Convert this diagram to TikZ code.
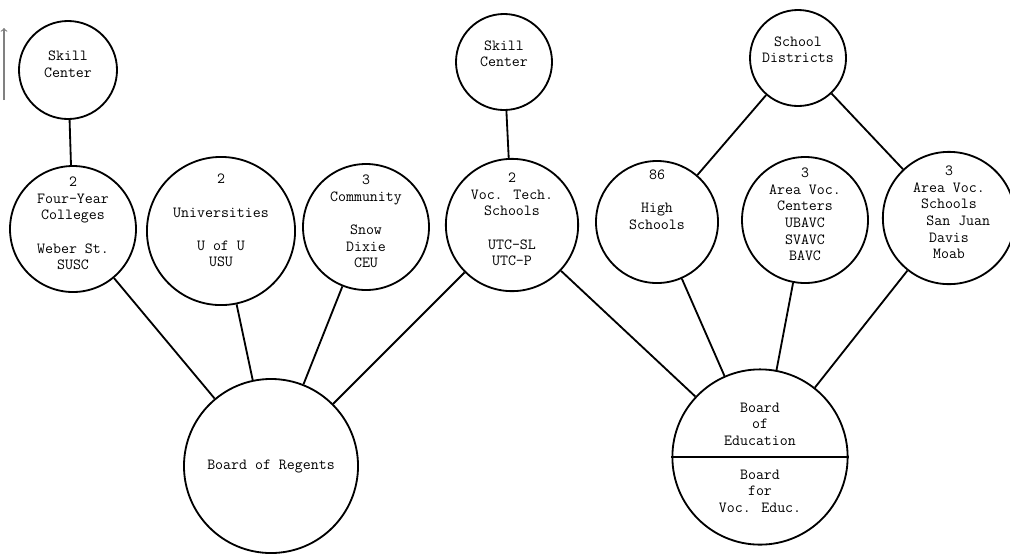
\documentclass[tikz,border=0pt]{standalone}
\usepackage{tikz}
\usetikzlibrary{positioning}

% empty last line, lifts the text a little inside its circle
\newcommand{\liftup}{\\[-3.8pt]\mbox{}}

\begin{document}
\begin{tikzpicture}[x=0.025cm,y=-0.025cm,
  circ/.style={draw,circle,line width=1.3pt,inner sep=0pt,align=center,
    font=\ttfamily\fontsize{11}{11.8}\selectfont},
  lbl/.style={align=center,inner sep=0pt,font=\ttfamily\fontsize{11}{11.8}\selectfont},
  link/.style={line width=1.3pt}]
\useasboundingbox (0,0) rectangle (1010,555);

% top row
\node[circ,minimum size=2.45cm] (skillA) at (68,70) {Skill\\Center\liftup};
\node[circ,minimum size=2.4cm] (skillB) at (504,62) {Skill\\Center\\[0pt]\mbox{}};
\node[circ,minimum size=2.4cm] (districts) at (798,58) {School\\Districts\\[0pt]\mbox{}};

% middle row
\node[circ,minimum size=3.1cm] (fouryear) at (73,229) {2\\Four-Year\\Colleges\\[11.8pt]Weber St.\\SUSC\liftup};
\node[circ,minimum size=3.05cm] (univ) at (221,231) {2\\[11.8pt]Universities\\[11.8pt]U of U\\USU\\[3pt]\mbox{}};
\node[circ,minimum size=3.0cm] (community) at (366,227) {3\\Community\\[11.8pt]Snow\\Dixie\\CEU\liftup};
\node[circ,minimum size=3.0cm] (voctech) at (512,225) {2\\Voc. Tech.\\Schools\\[11.8pt]UTC-SL\\UTC-P\liftup};
\node[circ,minimum size=3.05cm] (high) at (657,222) {86\\[11.8pt]High\\Schools\\[11.8pt]\mbox{}\liftup};
\node[circ,minimum size=3.05cm] (areacenters) at (805,220) {3\\Area Voc.\\Centers\\UBAVC\\SVAVC\\BAVC\liftup};
\node[circ,minimum size=2.95cm] (areaschools) at (949,218) {3\\Area Voc.\\Schools\\\hspace*{1.2em}San Juan\\Davis\\Moab\liftup};

% boards
\node[circ,minimum size=4.35cm] (regents) at (271,466) {Board of Regents};
\node[circ,minimum size=4.38cm] (education) at (760,457) {};
\node[lbl,above=8pt of education.center] (edutop) {Board\\of\\Education};
\node[lbl,below=9pt of education.center] (edubottom) {Board\\for\\Voc. Educ.};
\draw[line width=0.8pt] (education.west) -- (education.east);

% connectors
\draw[link] (skillA) -- (fouryear);
\draw[link] (skillB) -- (voctech);
\draw[link] (districts) -- (high);
\draw[link] (districts) -- (areaschools);
\draw[link] (fouryear) -- (regents);
\draw[link] (univ) -- (regents);
\draw[link] (community) -- (regents);
\draw[link] (voctech) -- (regents);
\draw[link] (voctech) -- (education);
\draw[link] (high) -- (education);
\draw[link] (areacenters) -- (education);
\draw[link] (areaschools) -- (education);

% mark at the left edge
\coordinate (edgelow) at (4,100);
\coordinate (edgehigh) at (4,28);
\draw[->,line width=0.8pt,color=gray] (edgelow) -- (edgehigh);

\end{tikzpicture}
\end{document}
